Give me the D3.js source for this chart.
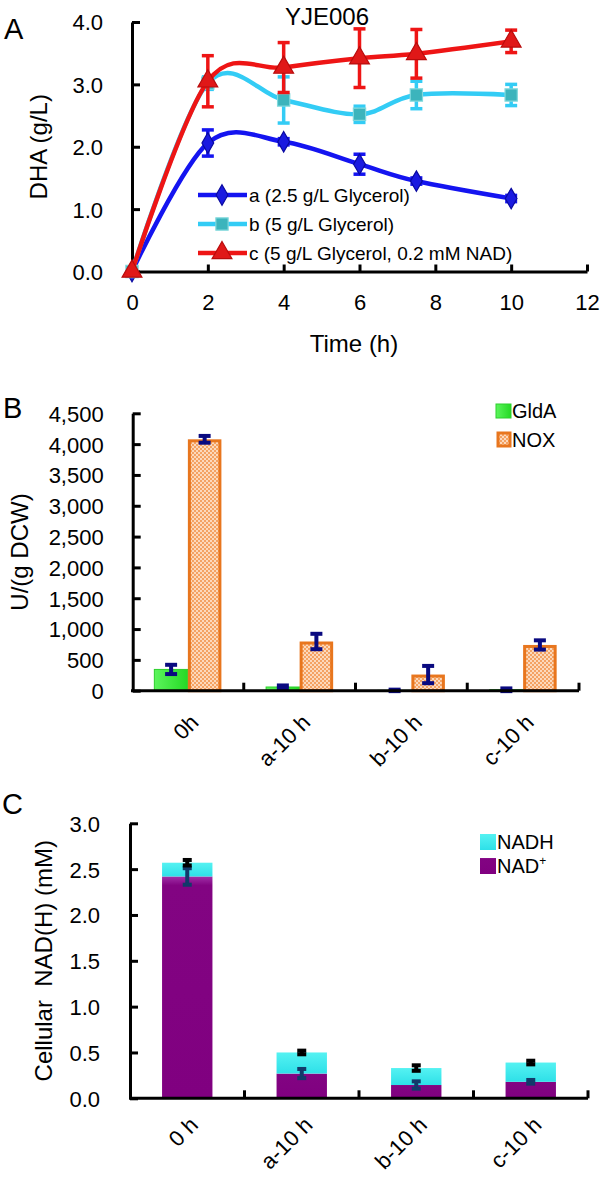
<!DOCTYPE html>
<html><head><meta charset="utf-8">
<script src="https://cdn.jsdelivr.net/npm/d3@7"></script>
<style>
html,body{margin:0;padding:0;background:#fff;}
svg{display:block;font-family:"Liberation Sans",Arial,Helvetica,sans-serif;}
</style></head><body>
<svg id="chart" width="600" height="1177"></svg>
<script>
// ---------- Panel A data ----------
const timeH = [0, 2, 4, 6, 7.5, 10];
const dhaA = [0, 2.06, 2.08, 1.72, 1.45, 1.17];
const dhaAErr = [0, 0.21, 0.05, 0.16, 0.05, 0.05];
const dhaB = [0, 3.02, 2.75, 2.52, 2.83, 2.83];
const dhaBErr = [0, 0.10, 0.37, 0.13, 0.22, 0.17];
const dhaC = [0, 3.05, 3.27, 3.42, 3.49, 3.69];
const dhaCErr = [0, 0.41, 0.40, 0.47, 0.39, 0.18];
const legendA = ["a (2.5 g/L Glycerol)", "b (5 g/L Glycerol)", "c (5 g/L Glycerol, 0.2 mM NAD)"];
const xTicksA = [0, 2, 4, 6, 8, 10, 12];
const yTicksA = [0, 1, 2, 3, 4];

// ---------- Panel B data ----------
const catsB = ["0h", "a-10 h", "b-10 h", "c-10 h"];
const gldA = [345, 60, 5, 15];
const gldAErr = [75, 25, 12, 22];
const nox = [4078, 798, 262, 742];
const noxErr = [55, 125, 140, 75];
const yTicksB = [0, 500, 1000, 1500, 2000, 2500, 3000, 3500, 4000, 4500];

// ---------- Panel C data ----------
const catsC = ["0 h", "a-10 h", "b-10 h", "c-10 h"];
const nadPlus = [2.42, 0.27, 0.145, 0.18];
const nadPlusErr = [0.09, 0.05, 0.04, 0.02];
const nadh = [0.15, 0.23, 0.185, 0.21];
const nadhErr = [0.03, 0.02, 0.03, 0.02];
const yTicksC = [0, 0.5, 1.0, 1.5, 2.0, 2.5, 3.0];

const svg = d3.select("#chart");
const defs = svg.append("defs");

function styleAxis(g, fs) {
  g.attr("font-family", null).attr("font-size", null);
  g.select(".domain").attr("stroke", "#000").attr("stroke-width", 3);
  g.selectAll(".tick line").attr("stroke", "#000").attr("stroke-width", 3);
  g.selectAll(".tick text").attr("fill", "#000").attr("font-size", fs);
}

// ================= PANEL A =================
const xA = d3.scaleLinear().domain([0, 12]).range([132, 587]);
const yA = d3.scaleLinear().domain([0, 4]).range([271.5, 22]);

svg.append("text").attr("x", 4).attr("y", 39).attr("font-size", 29).text("A");
svg.append("text").attr("x", 327).attr("y", 25).attr("font-size", 24).attr("text-anchor", "middle").text("YJE006");

const gxA = svg.append("g").attr("transform", `translate(0,${yA(0)})`)
  .call(d3.axisBottom(xA).tickValues(xTicksA).tickSizeInner(-7).tickSizeOuter(0).tickPadding(23).tickFormat(d3.format("d")));
styleAxis(gxA, 22);
gxA.selectAll(".tick line").filter(d => d === 0).remove();
const gyA = svg.append("g").attr("transform", `translate(${xA(0)},0)`)
  .call(d3.axisLeft(yA).tickValues(yTicksA).tickSizeInner(-8).tickSizeOuter(0).tickPadding(29).tickFormat(d3.format(".1f")));
styleAxis(gyA, 22);
gyA.selectAll(".tick text").attr("dy", "0.36em");

svg.append("text").attr("transform", `translate(47,${(yA(0) + yA(4)) / 2}) rotate(-90)`)
  .attr("text-anchor", "middle").attr("font-size", 24).text("DHA (g/L)");
svg.append("text").attr("x", 354).attr("y", 352).attr("text-anchor", "middle").attr("font-size", 24).text("Time (h)");

const seriesA = [
  {vals: dhaA, err: dhaAErr, color: "#1414f0", symbol: d3.symbolDiamond, size: 120, fill: "#1a1ae0", stroke: "#0a0aa0"},
  {vals: dhaB, err: dhaBErr, color: "#33ccf5", symbol: d3.symbolSquare, size: 150, fill: "#3cb4bc", stroke: "#7fd8dc"},
  {vals: dhaC, err: dhaCErr, color: "#ee1515", symbol: d3.symbolTriangle, size: 170, fill: "#e01818", stroke: "#b80c0c"}
];
const lineA = d3.line().x(d => xA(d[0])).y(d => yA(d[1])).curve(d3.curveCardinal.tension(0));

seriesA.forEach(s => {
  const pts = timeH.map((t, i) => [t, s.vals[i], s.err[i]]);
  const g = svg.append("g");
  g.append("path").attr("d", lineA(pts)).attr("fill", "none").attr("stroke", s.color).attr("stroke-width", 4.5);
  const eb = g.selectAll(".eb").data(pts.filter(p => p[2] > 0)).join("g");
  eb.append("line").attr("x1", p => xA(p[0])).attr("x2", p => xA(p[0]))
    .attr("y1", p => yA(p[1] + p[2])).attr("y2", p => yA(p[1] - p[2])).attr("stroke", s.color).attr("stroke-width", 3.5);
  [1, -1].forEach(k => eb.append("line").attr("x1", p => xA(p[0]) - 6).attr("x2", p => xA(p[0]) + 6)
    .attr("y1", p => yA(p[1] + k * p[2])).attr("y2", p => yA(p[1] + k * p[2])).attr("stroke", s.color).attr("stroke-width", 3.5));
  g.selectAll(".mk").data(pts).join("path")
    .attr("transform", p => `translate(${xA(p[0])},${yA(p[1])})`)
    .attr("d", d3.symbol(s.symbol, s.size)).attr("fill", s.fill).attr("stroke", s.stroke).attr("stroke-width", 1.2);
});

// legend A
const legYA = [195, 224, 253];
seriesA.forEach((s, i) => {
  const y = legYA[i];
  svg.append("line").attr("x1", 198).attr("x2", 247).attr("y1", y).attr("y2", y).attr("stroke", s.color).attr("stroke-width", 4.5);
  svg.append("path").attr("transform", `translate(222,${y})`).attr("d", d3.symbol(s.symbol, s.size))
    .attr("fill", s.fill).attr("stroke", s.stroke).attr("stroke-width", 1.2);
  svg.append("text").attr("x", 249).attr("y", y).attr("dy", "0.36em").attr("font-size", 19).text(legendA[i]);
});

// ================= PANEL B =================
const xB = d3.scaleBand().domain(catsB).range([132, 579]);
const yB = d3.scaleLinear().domain([0, 4500]).range([690.7, 413.3]);
const bw = xB.bandwidth();

const pat = defs.append("pattern").attr("id", "chk").attr("width", 4).attr("height", 4).attr("patternUnits", "userSpaceOnUse");
pat.append("rect").attr("width", 4).attr("height", 4).attr("fill", "#fcd9bc");
pat.append("rect").attr("width", 2).attr("height", 2).attr("fill", "#f4a263");
pat.append("rect").attr("x", 2).attr("y", 2).attr("width", 2).attr("height", 2).attr("fill", "#f4a263");
const gg = defs.append("linearGradient").attr("id", "grn").attr("x1", 0).attr("x2", 1).attr("y1", 0).attr("y2", 0);
gg.append("stop").attr("offset", 0).attr("stop-color", "#5cf55c");
gg.append("stop").attr("offset", 1).attr("stop-color", "#25d925");

svg.append("text").attr("x", 3).attr("y", 418).attr("font-size", 29).text("B");

const gB = svg.append("g");
// GldA bars
gB.selectAll(".g").data(catsB).join("rect")
  .attr("x", c => xB(c) + 0.2 * bw).attr("width", 0.3 * bw)
  .attr("y", (c, i) => yB(gldA[i])).attr("height", (c, i) => yB(0) - yB(gldA[i]))
  .attr("fill", "url(#grn)").attr("stroke", "#2ccf2c").attr("stroke-width", 1);
// NOX bars
gB.selectAll(".n").data(catsB).join("rect")
  .attr("x", c => xB(c) + 0.5 * bw + 1.5).attr("width", 0.3 * bw - 3)
  .attr("y", (c, i) => yB(nox[i]) + 1.5).attr("height", (c, i) => yB(0) - yB(nox[i]) - 1.5)
  .attr("fill", "url(#chk)").attr("stroke", "#e8761e").attr("stroke-width", 3);

function errBar(g, cx, yTop, yBot, color, w, cw) {
  g.append("line").attr("x1", cx).attr("x2", cx).attr("y1", yTop).attr("y2", yBot).attr("stroke", color).attr("stroke-width", w);
  g.append("line").attr("x1", cx - cw / 2).attr("x2", cx + cw / 2).attr("y1", yTop).attr("y2", yTop).attr("stroke", color).attr("stroke-width", w);
  g.append("line").attr("x1", cx - cw / 2).attr("x2", cx + cw / 2).attr("y1", yBot).attr("y2", yBot).attr("stroke", color).attr("stroke-width", w);
}
catsB.forEach((c, i) => {
  errBar(gB, xB(c) + 0.35 * bw, yB(gldA[i] + gldAErr[i]), yB(Math.max(gldA[i] - gldAErr[i], -40)), "#0a0a80", 4, 12);
  errBar(gB, xB(c) + 0.65 * bw, yB(nox[i] + noxErr[i]), yB(nox[i] - noxErr[i]), "#0a0a80", 4, 12);
});

const gyB = svg.append("g").attr("transform", `translate(132.7,0)`)
  .call(d3.axisLeft(yB).tickValues(yTicksB).tickSizeInner(-8).tickSizeOuter(0).tickPadding(29).tickFormat(d3.format(",")));
styleAxis(gyB, 22);
gyB.selectAll(".tick text").attr("dy", "0.36em");

const axB = svg.append("g");
axB.append("line").attr("x1", 131).attr("x2", 579).attr("y1", yB(0)).attr("y2", yB(0)).attr("stroke", "#000").attr("stroke-width", 3);
catsB.forEach((c, i) => {
  const xe = xB(c) + bw;
  axB.append("line").attr("x1", xe).attr("x2", xe).attr("y1", yB(0)).attr("y2", yB(0) - 8).attr("stroke", "#000").attr("stroke-width", 3);
  axB.append("text").attr("transform", `translate(${xB(c) + bw / 2 + 1},${yB(0) + 22}) rotate(-45)`)
    .attr("text-anchor", "end").attr("dy", "0.71em").attr("font-size", 22).text(c);
});
svg.append("text").attr("transform", `translate(28,${(yB(0) + yB(4500)) / 2}) rotate(-90)`)
  .attr("text-anchor", "middle").attr("font-size", 24).text("U/(g DCW)");

// legend B
svg.append("rect").attr("x", 496).attr("y", 404).attr("width", 15).attr("height", 14).attr("fill", "url(#grn)").attr("stroke", "#2ccf2c");
svg.append("text").attr("x", 512).attr("y", 418).attr("font-size", 20).text("GldA");
svg.append("rect").attr("x", 498).attr("y", 433).attr("width", 12).attr("height", 13).attr("fill", "url(#chk)").attr("stroke", "#e8761e").attr("stroke-width", 3);
svg.append("text").attr("x", 512).attr("y", 447).attr("font-size", 20).text("NOX");

// ================= PANEL C =================
const xC = d3.scaleBand().domain(catsC).range([130, 588]);
const yC = d3.scaleLinear().domain([0, 3]).range([1098.3, 823.3]);
const bwC = xC.bandwidth();
const barW = 0.44 * bwC;

const pg = defs.append("linearGradient").attr("id", "pur").attr("x1", 0).attr("x2", 0).attr("y1", 0).attr("y2", 1);
pg.append("stop").attr("offset", 0).attr("stop-color", "#a030a8");
pg.append("stop").attr("offset", 0.04).attr("stop-color", "#820482");
pg.append("stop").attr("offset", 1).attr("stop-color", "#800080");
const cg = defs.append("linearGradient").attr("id", "cyn").attr("x1", 0).attr("x2", 0).attr("y1", 0).attr("y2", 1);
cg.append("stop").attr("offset", 0).attr("stop-color", "#55f2f2");
cg.append("stop").attr("offset", 1).attr("stop-color", "#2ee0e8");

svg.append("text").attr("x", 2).attr("y", 814).attr("font-size", 29).text("C");

const gC = svg.append("g");
gC.selectAll(".p").data(catsC).join("rect")
  .attr("x", c => xC(c) + (bwC - barW) / 2).attr("width", barW)
  .attr("y", (c, i) => yC(nadPlus[i])).attr("height", (c, i) => yC(0) - yC(nadPlus[i]))
  .attr("fill", "url(#pur)");
gC.selectAll(".h").data(catsC).join("rect")
  .attr("x", c => xC(c) + (bwC - barW) / 2).attr("width", barW)
  .attr("y", (c, i) => yC(nadPlus[i] + nadh[i])).attr("height", (c, i) => yC(nadPlus[i]) - yC(nadPlus[i] + nadh[i]))
  .attr("fill", "url(#cyn)");
catsC.forEach((c, i) => {
  const cx = xC(c) + bwC / 2;
  errBar(gC, cx, yC(nadPlus[i] + nadPlusErr[i]), yC(nadPlus[i] - nadPlusErr[i]), "#123a6a", 4, 9);
  const tot = nadPlus[i] + nadh[i];
  errBar(gC, cx, yC(tot + nadhErr[i]), yC(tot - nadhErr[i]), "#000", 4, 9);
});

const gyC = svg.append("g").attr("transform", `translate(130,0)`)
  .call(d3.axisLeft(yC).tickValues(yTicksC).tickSizeInner(-8).tickSizeOuter(0).tickPadding(30).tickFormat(d3.format(".1f")));
styleAxis(gyC, 22);
gyC.selectAll(".tick text").attr("dy", "0.36em");

const axC = svg.append("g");
axC.append("line").attr("x1", 129).attr("x2", 588).attr("y1", yC(0)).attr("y2", yC(0)).attr("stroke", "#000").attr("stroke-width", 3);
catsC.forEach((c, i) => {
  const xe = xC(c) + bwC;
  axC.append("line").attr("x1", xe).attr("x2", xe).attr("y1", yC(0)).attr("y2", yC(0) - 8).attr("stroke", "#000").attr("stroke-width", 3);
  axC.append("text").attr("transform", `translate(${xC(c) + bwC / 2 + 1},${yC(0) + 17}) rotate(-45)`)
    .attr("text-anchor", "end").attr("dy", "0.71em").attr("font-size", 22).text(c);
});
svg.append("text").attr("transform", `translate(52,${(yC(0) + yC(3)) / 2}) rotate(-90)`)
  .attr("text-anchor", "middle").attr("font-size", 24).text("Cellular  NAD(H) (mM)").style("white-space", "pre");

// legend C
svg.append("rect").attr("x", 480).attr("y", 834).attr("width", 16).attr("height", 16).attr("fill", "url(#cyn)");
svg.append("text").attr("x", 497).attr("y", 849).attr("font-size", 20).text("NADH");
svg.append("rect").attr("x", 480).attr("y", 858).attr("width", 16).attr("height", 16).attr("fill", "url(#pur)");
const t2 = svg.append("text").attr("x", 497).attr("y", 873).attr("font-size", 20).text("NAD");
t2.append("tspan").attr("font-size", 12).attr("dy", "-8").text("+");
</script>
</body></html>
